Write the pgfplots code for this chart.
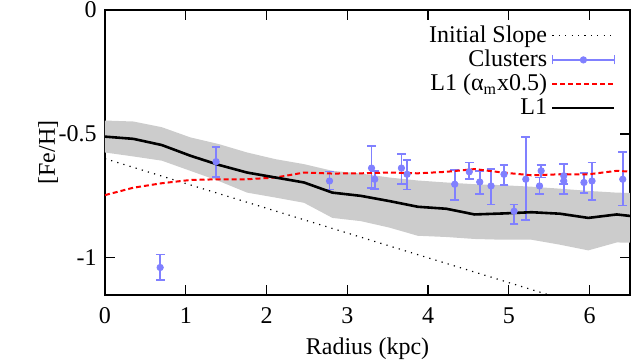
\documentclass[border=0pt,12pt]{standalone}
\usepackage{fontspec}
\setmainfont[Extension=.ttf,UprightFont=LiberationSerif-Regular,BoldFont=LiberationSerif-Bold,ItalicFont=LiberationSerif-Italic]{LiberationSerif}
\usepackage{pgfplots}
\pgfplotsset{compat=1.18}
\usepackage{pgfplotstable}
\definecolor{cblue}{HTML}{8080FF}
\definecolor{band}{HTML}{CCCCCC}

\pgfplotstableread{
x y ep em
0.683 -1.039 0.052 0.052
1.375 -0.612 0.060 0.061
2.78 -0.690 0.038 0.034
3.30 -0.638 0.088 0.079
3.34 -0.683 0.034 0.038
3.67 -0.638 0.057 0.065
3.74 -0.663 0.057 0.061
4.33 -0.703 0.057 0.064
4.51 -0.653 0.038 0.030
4.64 -0.694 0.045 0.050
4.78 -0.710 0.068 0.075
4.94 -0.663 0.038 0.044
5.065 -0.812 0.027 0.050
5.21 -0.683 0.170 0.163
5.38 -0.710 0.034 0.034
5.40 -0.649 0.023 0.027
5.68 -0.669 0.047 0.034
5.68 -0.690 0.030 0.054
5.93 -0.696 0.037 0.041
6.03 -0.690 0.075 0.077
6.41 -0.683 0.111 0.106
}\clusters

\begin{document}
\begin{tikzpicture}[font=\fontsize{12}{14}\selectfont]
\useasboundingbox (-52.5pt,-33.5pt) rectangle (266.5pt,147.5pt);
\begin{axis}[
  at={(0,0)}, anchor=south west,
  scale only axis,
  width=262.5pt, height=142.5pt,
  xmin=0, xmax=6.5, ymin=-1.15, ymax=0,
  xtick={0,1,2,3,4,5,6},
  xticklabels={0,1,2,3,4,5,6},
  ytick={-1,-0.5,0},
  yticklabels={-1,-0.5,0},
  tick label style={font=\fontsize{12}{14}\selectfont},
  xticklabel style={yshift=-2pt},
  label style={font=\fontsize{12}{14}\selectfont},
  tick pos=both, tick align=inside,
  major tick length=5pt,
  axis line style={line width=0.75pt},
  every tick/.style={black, line width=0.6pt},
  xlabel={Radius (kpc)},
  ylabel={[Fe/H]},
  xlabel style={yshift=1pt},
  ylabel style={yshift=-8pt},
  legend plot pos=right,
  legend cell align=right,
  legend style={draw=none, fill=none, at={(0.985,0.975)}, anchor=north east,
    row sep=-2pt, font=\fontsize{12}{14}\selectfont},
  clip=true,
]
% band
\addplot[fill=band, draw=none, forget plot] coordinates {
(0,-0.446) (0.352,-0.450) (0.704,-0.473) (1.056,-0.514) (1.408,-0.541)
(1.760,-0.575) (2.112,-0.602) (2.464,-0.622) (2.816,-0.649) (3.168,-0.660)
(3.520,-0.676) (3.872,-0.688) (4.224,-0.696) (4.576,-0.703) (4.928,-0.707)
(5.280,-0.713) (5.632,-0.721) (5.984,-0.730) (6.336,-0.737) (6.688,-0.740)
(6.688,-0.940) (6.336,-0.938) (5.984,-0.970) (5.632,-0.947) (5.280,-0.927)
(4.928,-0.927) (4.576,-0.924) (4.224,-0.916) (3.872,-0.911) (3.520,-0.878)
(3.168,-0.852) (2.816,-0.839) (2.464,-0.778) (2.112,-0.757) (1.760,-0.737)
(1.408,-0.690) (1.056,-0.649) (0.704,-0.608) (0.352,-0.591) (0,-0.575)
} -- cycle;

% initial slope
\addplot[black, dash pattern=on 0.6pt off 2.6pt, line width=0.6pt,
  legend image code/.code={\draw[black, dash pattern=on 0.6pt off 2.6pt, line width=0.6pt] (0pt,0pt) -- (31pt,0pt);}]
  coordinates {(0,-0.6) (6.5,-1.25)};
\addlegendentry{Initial Slope}

% clusters
\addplot[cblue, only marks, mark=*, mark size=1.6pt,
  legend image code/.code={
    \draw[cblue, line width=0.9pt] (0pt,0pt) -- (31pt,0pt);
    \draw[cblue, line width=0.9pt] (0pt,-2.2pt) -- (0pt,2.2pt);
    \draw[cblue, line width=0.9pt] (31pt,-2.2pt) -- (31pt,2.2pt);
    \fill[cblue] (15.5pt,0pt) circle (1.6pt);},
  error bars/.cd, y dir=both, y explicit,
  error bar style={line width=0.9pt, cblue},
  error mark options={rotate=90, mark size=2.2pt, line width=0.9pt, cblue}]
  table[x=x, y=y, y error plus=ep, y error minus=em] {\clusters};
\addlegendentry{Clusters}

% L1 alpha_m x0.5
\addplot[red, dash pattern=on 2.5pt off 1.5pt, line width=1pt,
  legend image code/.code={\draw[red, dash pattern=on 2.5pt off 1.5pt, line width=1pt] (0pt,0pt) -- (31pt,0pt);}]
  coordinates {
(0,-0.747) (0.352,-0.717) (0.704,-0.699) (1.056,-0.686) (1.408,-0.683)
(1.760,-0.683) (2.112,-0.676) (2.464,-0.656) (2.816,-0.660) (3.168,-0.659)
(3.520,-0.656) (3.872,-0.659) (4.224,-0.653) (4.576,-0.642) (4.928,-0.656)
(5.280,-0.667) (5.632,-0.663) (5.984,-0.663) (6.336,-0.649) (6.688,-0.656)
};
\addlegendentry{L1 (α\textsubscript{m}x0.5)}

% L1
\addplot[black, line width=1.3pt,
  legend image code/.code={\draw[black, line width=1.3pt] (0pt,0pt) -- (31pt,0pt);}]
  coordinates {
(0,-0.511) (0.352,-0.520) (0.704,-0.545) (1.056,-0.588) (1.408,-0.625)
(1.760,-0.656) (2.112,-0.676) (2.464,-0.696) (2.816,-0.737) (3.168,-0.750)
(3.520,-0.771) (3.872,-0.794) (4.224,-0.802) (4.576,-0.825) (4.928,-0.821)
(5.280,-0.816) (5.632,-0.822) (5.984,-0.839) (6.336,-0.825) (6.688,-0.838)
};
\addlegendentry{L1}
\end{axis}
\end{tikzpicture}
\end{document}
